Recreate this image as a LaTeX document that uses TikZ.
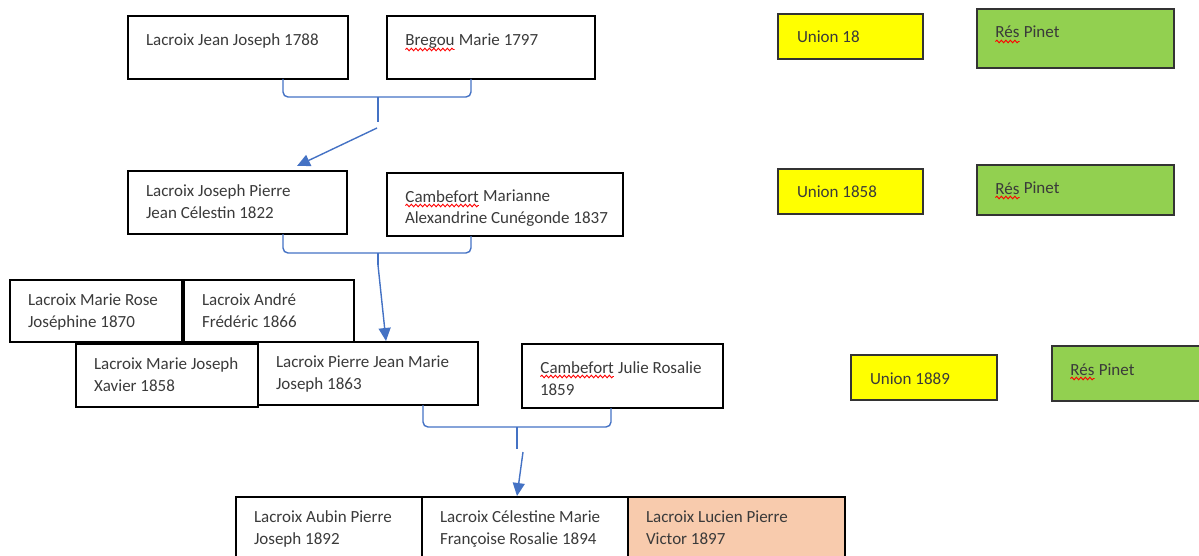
\documentclass[tikz,border=0pt]{standalone}
\usepackage{fontspec}
\setmainfont{Carlito}
\usetikzlibrary{arrows.meta,decorations.pathmorphing}
\definecolor{wordblue}{HTML}{4472C4}
\definecolor{uyellow}{HTML}{FFFF00}
\definecolor{rgreen}{HTML}{92D050}
\definecolor{peach}{HTML}{F8CBAD}
\definecolor{txtgray}{HTML}{3A3A3A}
\newcommand{\sqw}[1]{\tikz[baseline=(sqword.base)]{\node[inner sep=0pt,outer sep=0pt] (sqword) {#1};\draw[red,line width=0.9pt,decorate,decoration={snake,amplitude=1.3pt,segment length=4.5pt}] ([yshift=-3.5pt]sqword.base west) -- ([yshift=-3.5pt]sqword.base east);}}
\tikzset{
  fbox/.style={draw=black,line width=1.4pt,anchor=north west,inner sep=0pt,outer sep=0pt},
  ubox/.style={fbox,draw=black!80,fill=uyellow},
  gbox/.style={fbox,draw=black!80,fill=rgreen},
  txt/.style={anchor=north west,inner sep=0pt,outer sep=0pt,align=left,text=txtgray,
    font=\fontsize{17}{22}\selectfont,execute at begin node=\strut,xshift=18pt,yshift=-13.6pt},
  brace/.style={draw=wordblue,line width=1.4pt,rounded corners=5pt},
  arr/.style={draw=wordblue,line width=1.4pt,-{Triangle[length=13pt,width=12pt]}},
}
\begin{document}
\begin{tikzpicture}[x=1pt,y=-1pt]
\useasboundingbox (0,0) rectangle (1199,556);
% boxes
\node[fbox,minimum width=220pt,minimum height=63pt] (b1) at (128,16) {};
\node[txt,yshift=-1pt] (t1) at (b1.north west) {Lacroix Jean Joseph 1788};
\node[fbox,minimum width=208pt,minimum height=63pt] (b2) at (387,16) {};
\node[txt,yshift=-1pt] (t2) at (b2.north west) {\sqw{Bregou} Marie 1797};
\node[ubox,minimum width=145pt,minimum height=45pt] (u1) at (778,14) {};
\node[txt,xshift=1pt] (tu1) at (u1.north west) {Union 18};
\node[gbox,minimum width=197pt,minimum height=59pt] (g1) at (977,9) {};
\node[txt] (tg1) at (g1.north west) {\sqw{Rés} Pinet};

\node[fbox,minimum width=219pt,minimum height=63pt] (b5) at (128,171) {};
\node[txt] (t5) at (b5.north west) {Lacroix Joseph Pierre\\Jean Célestin 1822};
\node[fbox,minimum width=236pt,minimum height=63pt] (b6) at (387,173) {};
\node[txt] (t6) at (b6.north west) {\sqw{Cambefort} Marianne\\Alexandrine Cunégonde 1837};
\node[ubox,minimum width=145pt,minimum height=45pt] (u2) at (778,169) {};
\node[txt,xshift=1pt] (tu2) at (u2.north west) {Union 1858};
\node[gbox,minimum width=197pt,minimum height=50pt] (g2) at (977,165) {};
\node[txt] (tg2) at (g2.north west) {\sqw{Rés} Pinet};

\node[fbox,minimum width=172pt,minimum height=62pt] (b9) at (10,280) {};
\node[txt] (t9) at (b9.north west) {Lacroix Marie Rose\\Joséphine 1870};
\node[fbox,minimum width=170pt,minimum height=62pt] (b10) at (184,280) {};
\node[txt] (t10) at (b10.north west) {Lacroix André\\Frédéric 1866};
\node[fbox,minimum width=182pt,minimum height=63pt] (b11) at (76,344) {};
\node[txt] (t11) at (b11.north west) {Lacroix Marie Joseph\\Xavier 1858};
\node[fbox,minimum width=220pt,minimum height=63pt] (b12) at (258,342) {};
\node[txt] (t12) at (b12.north west) {Lacroix Pierre Jean Marie\\Joseph 1863};
\node[fbox,minimum width=201pt,minimum height=64pt] (b13) at (522,344) {};
\node[txt] (t13) at (b13.north west) {\sqw{Cambefort} Julie Rosalie\\1859};
\node[ubox,minimum width=146pt,minimum height=45pt] (u3) at (851,355) {};
\node[txt,xshift=1pt] (tu3) at (u3.north west) {Union 1889};
\node[gbox,minimum width=165pt,minimum height=55pt] (g3) at (1052,346) {};
\node[txt] (tg3) at (g3.north west) {\sqw{Rés} Pinet};

\node[fbox,minimum width=186pt,minimum height=70pt] (b16) at (236,497) {};
\node[txt] (t16) at (b16.north west) {Lacroix Aubin Pierre\\Joseph 1892};
\node[fbox,minimum width=206pt,minimum height=70pt] (b17) at (422,497) {};
\node[txt] (t17) at (b17.north west) {Lacroix Célestine Marie\\Françoise Rosalie 1894};
\node[fbox,fill=peach,minimum width=217pt,minimum height=70pt] (b18) at (628,497) {};
\node[txt] (t18) at (b18.north west) {Lacroix Lucien Pierre\\Victor 1897};

% brace 1
\coordinate (c1a) at (b1.south west -| 283,0);
\coordinate (c1b) at (b2.south west -| 471,0);
\coordinate (c1m) at (378,97);
\coordinate (c1t) at (378,122);
\draw[brace] (c1a) |- (c1m) -| (c1b);
\draw[brace] (c1m) -- (c1t);
\coordinate (a1s) at (377,128);
\coordinate (a1e) at (297,166);
\draw[arr] (a1s) -- (a1e);

% brace 2
\coordinate (c2a) at (b5.south west -| 283,0);
\coordinate (c2b) at (b6.south west -| 471,0);
\coordinate (c2m) at (378,253);
\coordinate (c2t) at (378,265);
\draw[brace] (c2a) |- (c2m) -| (c2b);
\draw[brace] (c2m) -- (c2t);
\coordinate (a2e) at (386,341);
\draw[arr] (c2t) -- (a2e);

% brace 3
\coordinate (c3a) at (b12.south west -| 423,0);
\coordinate (c3b) at (b13.south west -| 611,0);
\coordinate (c3m) at (517,427);
\coordinate (c3t) at (517,449);
\draw[brace] (c3a) |- (c3m) -| (c3b);
\draw[brace] (c3m) -- (c3t);
\coordinate (a3s) at (523,452);
\coordinate (a3e) at (517,496);
\draw[arr] (a3s) -- (a3e);
\end{tikzpicture}
\end{document}
